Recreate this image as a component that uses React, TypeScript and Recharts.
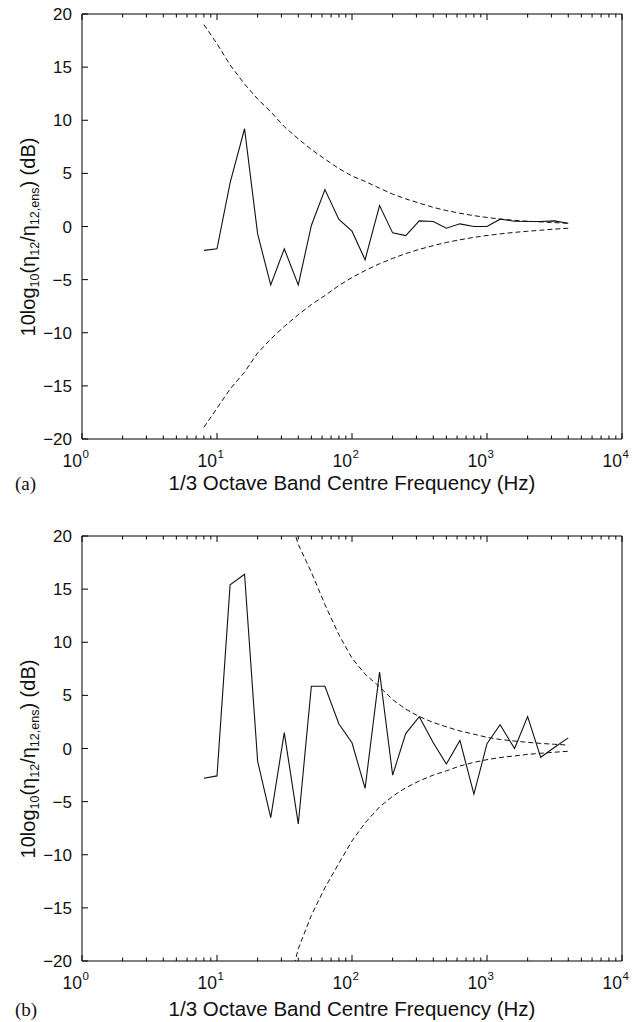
import React from 'react';
import { LineChart, Line, XAxis, YAxis } from 'recharts';

// 1/3 octave band centre frequencies (Hz)
const freqs = [8, 10, 12.5, 16, 20, 25, 31.5, 40, 50, 63, 80, 100, 125, 160, 200, 250, 315, 400, 500, 630, 800, 1000, 1250, 1600, 2000, 2500, 3150, 4000];

// Panel (a)
const measuredA = [-2.25, -2.1, 4.1, 9.2, -0.7, -5.5, -2.1, -5.5, 0.1, 3.47, 0.66, -0.44, -3.13, 1.97, -0.6, -0.85, 0.53, 0.47, -0.16, 0.25, 0, 0, 0.69, 0.5, 0.47, 0.47, 0.53, 0.31];
const upperA = [19.0, 17.2, 15.2, 13.4, 12.0, 10.8, 9.4, 8.25, 7.25, 6.35, 5.45, 4.75, 4.25, 3.6, 3.05, 2.6, 2.2, 1.8, 1.5, 1.25, 1.02, 0.85, 0.7, 0.58, 0.5, 0.43, 0.37, 0.3];
const lowerA = [-18.9, -17.1, -15.3, -13.7, -11.9, -10.6, -9.4, -8.3, -7.35, -6.5, -5.55, -4.8, -4.15, -3.5, -3.0, -2.55, -2.15, -1.8, -1.5, -1.25, -1.02, -0.85, -0.7, -0.55, -0.45, -0.35, -0.25, -0.16];

// Panel (b)
const measuredB = [-2.8, -2.58, 15.4, 16.4, -1.2, -6.5, 1.5, -7.1, 5.86, 5.86, 2.3, 0.54, -3.76, 7.2, -2.5, 1.4, 3.0, 0.54, -1.46, 0.76, -4.3, 0.45, 2.23, 0, 3.0, -0.83, 0.1, 1.0];
const upperB = [null, null, null, null, null, null, 23.5, 19.2, 16.6, 13.55, 10.7, 8.5, 7.0, 5.8, 4.6, 3.7, 3.0, 2.45, 2.04, 1.65, 1.35, 1.05, 0.85, 0.7, 0.58, 0.48, 0.4, 0.32];
const lowerB = [null, null, null, null, null, null, -24, -18.85, -15.7, -13.1, -10.8, -8.7, -7.0, -5.5, -4.5, -3.7, -3.05, -2.5, -2.1, -1.65, -1.3, -1.05, -0.85, -0.7, -0.55, -0.45, -0.35, -0.26];

// Axis ticks
const xTicks = [1, 2, 3, 4, 5, 6, 7, 8, 9, 10, 20, 30, 40, 50, 60, 70, 80, 90, 100, 200, 300, 400, 500, 600, 700, 800, 900, 1000, 2000, 3000, 4000, 5000, 6000, 7000, 8000, 9000, 10000];
const xMajor = [1, 10, 100, 1000, 10000];
const yTicks = [-20, -15, -10, -5, 0, 5, 10, 15, 20];

const FONT = 'Liberation Sans, Arial, Helvetica, sans-serif';
const SERIF = 'Liberation Serif, Times New Roman, serif';
const INK = '#000';

const buildData = (m: number[], u: (number | null)[], l: (number | null)[]) =>
  freqs.map((f, i) => ({ f, measured: m[i], upper: u[i], lower: l[i] }));

const dataA = buildData(measuredA, upperA, lowerA);
const dataB = buildData(measuredB, upperB, lowerB);

const isMajor = (v: number) => xMajor.includes(v);
const fmtY = (v: number) => (v < 0 ? '\u2212' + Math.abs(v) : String(v));

const BottomTick = (p: any) => {
  const { x, y, payload } = p;
  const v = payload.value;
  const major = isMajor(v);
  const len = major ? 6 : 3.5;
  const exp = Math.round(Math.log10(v));
  return (
    <g>
      <path d={`M${x},${y}L${x},${y - len}`} stroke={INK} strokeWidth={1} fill="none" />
      {major && <text x={x} y={y + 27.5} textAnchor="end" fontFamily={FONT} fontSize={17.5} fill="#111">10</text>}
      {major && <text x={x + 0.5} y={y + 19} textAnchor="start" fontFamily={FONT} fontSize={11.5} fill="#111">{exp}</text>}
    </g>
  );
};

const TopTick = (p: any) => {
  const { x, y, payload } = p;
  const len = isMajor(payload.value) ? 6 : 3.5;
  return <path d={`M${x},${y}L${x},${y + len}`} stroke={INK} strokeWidth={1} fill="none" />;
};

function Panel({ data, height, marginTop }: { data: any[]; height: number; marginTop: number }) {
  return (
    <LineChart width={637} height={height} data={data} margin={{ top: marginTop, right: 14, bottom: 0, left: 0 }}>
      <XAxis xAxisId="b" dataKey="f" type="number" scale="log" domain={[1, 10000]} ticks={xTicks} interval={0} allowDataOverflow height={61} tickSize={0} tickMargin={0} tickLine={false} tick={(p: any) => <BottomTick {...p} />} stroke={INK} strokeWidth={1} />
      <XAxis xAxisId="t" orientation="top" dataKey="f" type="number" scale="log" domain={[1, 10000]} ticks={xTicks} interval={0} allowDataOverflow height={1} tickSize={0} tickMargin={0} tickLine={false} tick={(p: any) => <TopTick {...p} />} stroke={INK} strokeWidth={1} />
      <YAxis
        yAxisId="l"
        type="number"
        domain={[-20, 20]}
        ticks={yTicks}
        interval={0}
        allowDataOverflow
        width={82}
        tickSize={-6}
        tickMargin={16}
        tickLine={{ stroke: INK }}
        tickFormatter={fmtY}
        tick={{ fontSize: 17, fontFamily: FONT, fill: '#111' }}
        stroke={INK}
        strokeWidth={1}
      />
      <YAxis
        yAxisId="r"
        orientation="right"
        type="number"
        domain={[-20, 20]}
        ticks={yTicks}
        interval={0}
        allowDataOverflow
        width={1}
        tickSize={-6}
        tickMargin={0}
        tickLine={{ stroke: INK }}
        tick={false}
        stroke={INK}
        strokeWidth={1}
      />
      <Line xAxisId="b" yAxisId="l" type="linear" dataKey="upper" stroke="#111" strokeWidth={1} strokeDasharray="5 3" dot={false} activeDot={false} isAnimationActive={false} />
      <Line xAxisId="b" yAxisId="l" type="linear" dataKey="lower" stroke="#111" strokeWidth={1} strokeDasharray="5 3" dot={false} activeDot={false} isAnimationActive={false} />
      <Line xAxisId="b" yAxisId="l" type="linear" dataKey="measured" stroke="#111" strokeWidth={1.1} dot={false} activeDot={false} isAnimationActive={false} />
    </LineChart>
  );
}

const subStyle: React.CSSProperties = { fontSize: 12.5, position: 'relative', top: 4 };

function YLabel({ cx, cy }: { cx: number; cy: number }) {
  return (
    <div
      style={{
        position: 'absolute', left: cx, top: cy, transform: 'translate(-50%, -50%) rotate(-90deg)',
        fontFamily: FONT, fontSize: 20, lineHeight: '20px', whiteSpace: 'nowrap', color: '#111',
      }}
    >
      10log<span style={subStyle}>10</span>(η<span style={subStyle}>12</span>/η<span style={subStyle}>12,ens</span>) (dB)
    </div>
  );
}

const xLabelStyle = (top: number): React.CSSProperties => ({
  position: 'absolute', left: 102, width: 500, top, textAlign: 'center',
  fontFamily: FONT, fontSize: 20.5, lineHeight: '20.5px', whiteSpace: 'nowrap', color: '#111',
});

const tagStyle = (top: number): React.CSSProperties => ({
  position: 'absolute', left: 15, top, fontFamily: SERIF, fontSize: 19, lineHeight: '19px', color: '#111',
});

export default function App() {
  return (
    <div style={{ position: 'relative', left: -8, top: -8, width: 637, height: 1022, background: '#fff' }}>
      <Panel data={dataA} height={500} marginTop={13} />
      <div style={{ height: 20 }} />
      <Panel data={dataB} height={502} marginTop={15} />
      <YLabel cx={29} cy={237} />
      <YLabel cx={29} cy={759} />
      <div style={xLabelStyle(472.6)}>1/3 Octave Band Centre Frequency (Hz)</div>
      <div style={xLabelStyle(998.6)}>1/3 Octave Band Centre Frequency (Hz)</div>
      <div style={tagStyle(474)}>(a)</div>
      <div style={tagStyle(1000)}>(b)</div>
    </div>
  );
}
